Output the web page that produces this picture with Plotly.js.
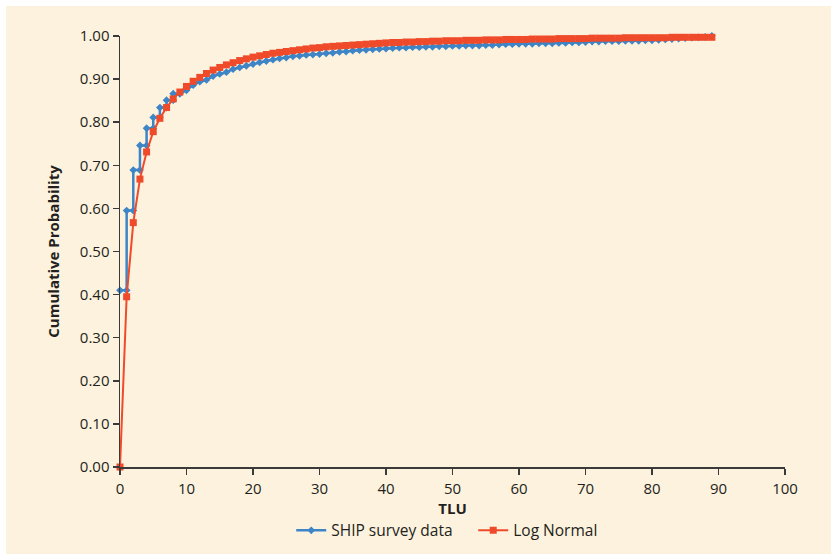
<!DOCTYPE html>
<html>
<head>
<meta charset="utf-8">
<script src="https://cdn.plot.ly/plotly-3.0.1.min.js"></script>
<style>
html,body{margin:0;padding:0;background:#ffffff;}
#chart{position:absolute;left:6px;top:6px;width:825px;height:548px;}
</style>
</head>
<body>
<div id="chart"></div>
<script>
// SHIP survey data (stepped at low TLU values)
const shipX = [0,1,1,2,2,3,3,4,4,5,5,6,6,7,7,8,8,9,
  10,11,12,13,14,15,16,17,18,19,20,21,22,23,24,25,26,27,28,29,30,
  31,32,33,34,35,36,37,38,39,40,41,42,43,44,45,46,47,48,49,50,
  51,52,53,54,55,56,57,58,59,60,61,62,63,64,65,66,67,68,69,70,
  71,72,73,74,75,76,77,78,79,80,81,82,83,84,85,86,87,88,89];
const shipY = [0.410,0.410,0.595,0.595,0.689,0.689,0.746,0.746,0.786,0.786,0.811,0.811,0.834,0.834,0.851,0.851,0.866,0.866,
  0.874,0.886,0.894,0.898,0.907,0.912,0.916,0.923,0.927,0.931,0.935,0.939,0.942,0.945,0.948,0.950,0.953,0.954,0.956,0.957,0.958,
  0.960,0.961,0.963,0.964,0.966,0.967,0.968,0.969,0.970,0.971,0.972,0.973,0.973,0.974,0.974,0.975,0.975,0.976,0.976,0.977,
  0.977,0.978,0.978,0.978,0.979,0.979,0.980,0.981,0.981,0.982,0.982,0.982,0.983,0.983,0.983,0.984,0.984,0.985,0.985,0.986,
  0.987,0.987,0.988,0.988,0.988,0.989,0.989,0.989,0.990,0.990,0.991,0.992,0.993,0.994,0.995,0.996,0.997,0.998,1.000];

// Log Normal fit
const lnX = [0,1,2,3,4,5,6,7,8,9,10,11,12,13,14,15,16,17,18,19,20,
  21,22,23,24,25,26,27,28,29,30,31,32,33,34,35,36,37,38,39,40,
  41,42,43,44,45,46,47,48,49,50,51,52,53,54,55,56,57,58,59,60,
  61,62,63,64,65,66,67,68,69,70,71,72,73,74,75,76,77,78,79,80,
  81,82,83,84,85,86,87,88,89];
const lnY = [0,0.395,0.567,0.668,0.731,0.778,0.809,0.834,0.854,0.870,0.883,0.895,0.904,0.913,0.921,0.927,0.933,0.938,0.943,0.947,0.951,
  0.954,0.957,0.960,0.962,0.964,0.966,0.968,0.970,0.972,0.973,0.975,0.976,0.977,0.978,0.979,0.980,0.981,0.982,0.983,0.984,
  0.985,0.985,0.986,0.986,0.987,0.987,0.988,0.988,0.989,0.989,0.989,0.990,0.990,0.990,0.991,0.991,0.991,0.992,0.992,0.992,
  0.992,0.993,0.993,0.993,0.993,0.994,0.994,0.994,0.994,0.994,0.995,0.995,0.995,0.995,0.995,0.996,0.996,0.996,0.996,0.996,
  0.996,0.996,0.997,0.997,0.997,0.997,0.997,0.997,0.997];

const yTickVals = [0,0.1,0.2,0.3,0.4,0.5,0.6,0.7,0.8,0.9,1.0];
const yTickText = ["0.00","0.10","0.20","0.30","0.40","0.50","0.60","0.70","0.80","0.90","1.00"];
const xTickVals = [0,10,20,30,40,50,60,70,80,90,100];

const seriesNames = ["SHIP survey data","Log Normal"];
const axisTitles = {x:"TLU", y:"Cumulative Probability"};

const BLUE = "#3d85c6", RED = "#ef4a2a", AXIS = "#3a3a3a", TXT = "#231f20";
const FONT = "Open Sans, Noto Sans, sans-serif";

const traces = [
  {x: shipX, y: shipY, name: seriesNames[0], type: "scatter", mode: "lines+markers",
   line: {color: BLUE, width: 2.5}, marker: {symbol: "diamond", size: 6, color: BLUE},
   cliponaxis: false},
  {x: lnX, y: lnY, name: seriesNames[1], type: "scatter", mode: "lines+markers",
   line: {color: RED, width: 2}, marker: {symbol: "square", size: 7, color: RED},
   cliponaxis: false}
];

const layout = {
  width: 825, height: 548,
  paper_bgcolor: "#fdf2de", plot_bgcolor: "#fdf2de",
  margin: {l: 114, r: 46, t: 30, b: 87, pad: 0, autoexpand: false},
  font: {family: FONT, size: 15, color: TXT},
  showlegend: true,
  legend: {orientation: "h", x: 0.2575, xanchor: "left", y: -0.148, yanchor: "middle",
           entrywidth: 137, entrywidthmode: "pixels",
           font: {family: FONT, size: 15.5, color: TXT}, bgcolor: "rgba(0,0,0,0)"},
  xaxis: {range: [0,100], tickvals: xTickVals, ticktext: xTickVals.map(String),
          showline: true, linecolor: AXIS, linewidth: 1.5, ticks: "outside", ticklen: 6,
          tickcolor: AXIS, tickwidth: 1.5, showgrid: false, zeroline: false, automargin: false,
          ticklabelstandoff: 1,
          tickfont: {size: 15, color: TXT},
          title: {text: "<b>" + axisTitles.x + "</b>", font: {size: 15, color: TXT}, standoff: 2}},
  yaxis: {range: [0,1], tickvals: yTickVals, ticktext: yTickText,
          showline: true, linecolor: AXIS, linewidth: 1.5, ticks: "outside", ticklen: 6,
          tickcolor: AXIS, tickwidth: 1.5, showgrid: false, zeroline: false, automargin: false,
          tickfont: {size: 15, color: TXT},
          title: {text: "<b>" + axisTitles.y + "</b>", font: {size: 15, color: TXT}, standoff: 16}}
};

Plotly.newPlot("chart", traces, layout, {displayModeBar: false, staticPlot: true});
</script>
</body>
</html>
